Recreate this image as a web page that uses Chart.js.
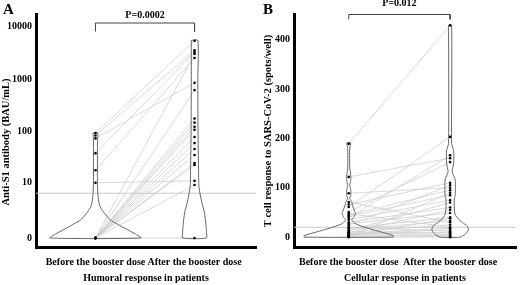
<!DOCTYPE html>
<html>
<head>
<meta charset="utf-8">
<script src="https://cdn.jsdelivr.net/npm/chart.js@4.4.0/dist/chart.umd.min.js"></script>
<style>
  body { margin: 0; background: #fff; }
  #wrap { position: relative; width: 520px; height: 285px; }
  canvas { position: absolute; top: 0; }
  #chartA { left: 0; }
  #chartB { left: 260px; }
</style>
</head>
<body>
<div id="wrap">
  <canvas id="chartA" width="260" height="285"></canvas>
  <canvas id="chartB" width="260" height="285"></canvas>
</div>
<script>
const groups = ["Before the booster dose", "After the booster dose"];

// Panel A - anti-S1 antibody (BAU/mL), one entry per patient
const humoralBefore = [95, 85, 75, 39, 18, 10, 0, 0, 0, 0, 0, 0, 0, 0, 0, 0, 0, 0, 0, 0];
const humoralAfter = [5300, 3500, 850, 3200, 2500, 11, 620, 180, 150, 125, 110, 80, 61, 47, 36, 25, 23, 9, 0, 3000];
const humoralTicks = [0, 10, 100, 1000, 10000];
const humoralCutoff = 6;

// violin outlines: [value, half width], top to bottom
const humoralViolinBefore = [[95, 0.025], [70, 0.02], [30, 0.02], [11, 0.02], [5.5, 0.025], [3.2, 0.04], [2.1, 0.08], [1.2, 0.15], [0.55, 0.29], [0.2, 0.4], [0, 0.46]];
const humoralViolinAfter = [[5400, 0.033], [1000, 0.033], [100, 0.035], [20, 0.04], [8, 0.045], [4, 0.07], [2, 0.1], [0.8, 0.115], [0.3, 0.12], [0, 0.12]];

// Panel B - T cell response (spots/well), one entry per patient
const cellularBefore = [189, 122, 89, 71, 66, 61, 51, 48, 45, 42, 39, 35, 30, 27, 24, 20, 18, 15, 13, 11, 10, 9, 8, 7, 6, 5, 4, 3, 2, 1, 0];
const cellularAfter = [429, 160, 100, 30, 110, 203, 152, 20, 95, 85, 166, 75, 60, 49, 105, 12, 40, 33, 70, 8, 25, 55, 5, 18, 15, 10, 3, 38, 2, 90, 0];
const cellularTicks = [0, 100, 200, 300, 400];
const cellularCutoff = 20;

const cellularViolinBefore = [[191, 0.02], [180, 0.01], [140, 0.01], [125, 0.02], [115, 0.02], [105, 0.01], [95, 0.02], [85, 0.02], [78, 0.01], [72, 0.03], [65, 0.035], [57, 0.05], [48, 0.065], [40, 0.05], [35, 0.03], [28, 0.06], [22, 0.13], [15, 0.24], [8, 0.36], [3, 0.44], [0, 0.44]];
const cellularViolinAfter = [[429, 0.015], [190, 0.015], [175, 0.035], [150, 0.035], [132, 0.02], [116, 0.05], [85, 0.05], [75, 0.04], [49, 0.045], [39, 0.07], [30, 0.12], [22, 0.17], [14, 0.18], [6, 0.15], [0, 0.1]];

const serif = '"Liberation Serif", "Times New Roman", serif';

const logPlusOne = v => Math.log10(v + 1);
const plain = v => v;

function violinPath(profile, center, tf) {
    const left = profile.map(([v, w]) => ({ x: center - w, y: tf(v) }));
    const right = profile.slice().reverse().map(([v, w]) => ({ x: center + w, y: tf(v) }));
    return left.concat(right, [left[0]]);
}

// letters, p values and rotated y titles
const annotate = {
    id: "annotate",
    afterDraw(chart, args, opts) {
        const { ctx, scales } = chart;
        ctx.save();
        ctx.fillStyle = "#000";
        ctx.font = "bold 15px " + serif;
        ctx.textBaseline = "top";
        ctx.textAlign = "left";
        ctx.fillText(opts.letter, opts.letterX, 3);

        const mid = (scales.x.getPixelForValue(0) + scales.x.getPixelForValue(1)) / 2;
        ctx.font = "bold 10px " + serif;
        ctx.textAlign = "center";
        ctx.textBaseline = "bottom";
        ctx.fillText(opts.pText, mid, scales.y.getPixelForValue(opts.bracketTop) - opts.pGap);

        ctx.translate(opts.titleX, opts.titleY);
        ctx.rotate(-Math.PI / 2);
        ctx.font = "bold 10.5px " + serif;
        ctx.textBaseline = "middle";
        ctx.fillText(opts.yTitle, 0, 0);
        ctx.restore();
    }
};

function makePanel(id, p) {
    const datasets = [];

    // paired patient lines
    p.before.forEach((b, i) => {
        datasets.push({
            data: [{ x: 0, y: p.tf(b) }, { x: 1, y: p.tf(p.after[i]) }],
            showLine: true,
            borderColor: "#cfcfcf",
            borderWidth: 0.8,
            pointRadius: 0,
            order: 4
        });
    });

    // cutoff line
    datasets.push({
        data: [{ x: p.xMin, y: p.tf(p.cutoff) }, { x: p.xMax, y: p.tf(p.cutoff) }],
        showLine: true,
        borderColor: "#c8c8c8",
        borderWidth: 1,
        pointRadius: 0,
        order: 3
    });

    // violins
    [p.violinBefore, p.violinAfter].forEach((prof, i) => {
        datasets.push({
            data: violinPath(prof, i, p.tf),
            showLine: true,
            borderColor: "#666",
            borderWidth: 1,
            tension: 0.2,
            pointRadius: 0,
            order: 2
        });
    });

    // bracket
    datasets.push({
        data: [
            { x: 0, y: p.bracketLow }, { x: 0, y: p.bracketTop },
            { x: 1, y: p.bracketTop }, { x: 1, y: p.bracketLow }
        ],
        showLine: true,
        borderColor: "#444",
        borderWidth: 1,
        pointRadius: 0,
        order: 1
    });

    // patient dots
    [p.before, p.after].forEach((vals, i) => {
        datasets.push({
            data: vals.map(v => ({ x: i, y: p.tf(v) })),
            pointRadius: 1.3,
            pointBackgroundColor: "#000",
            pointBorderWidth: 0,
            order: 0
        });
    });

    return new Chart(document.getElementById(id), {
        type: "scatter",
        data: { datasets },
        plugins: [annotate],
        options: {
            responsive: false,
            animation: false,
            events: [],
            layout: { padding: { top: 14, right: p.padRight, left: 0, bottom: 0 } },
            plugins: {
                legend: { display: false },
                tooltip: { enabled: false },
                annotate: {
                    letter: p.letter, letterX: 3,
                    pText: p.pText, pGap: p.pGap, bracketTop: p.bracketTop,
                    yTitle: p.yTitle, titleX: p.titleX, titleY: p.titleY
                }
            },
            scales: {
                x: {
                    type: "linear",
                    min: p.xMin,
                    max: p.xMax,
                    grid: { display: false, drawTicks: false },
                    border: { display: true, color: "#000", width: 3 },
                    afterBuildTicks: s => { s.ticks = groups.map((g, i) => ({ value: i })); },
                    afterFit: s => { s.height = 38; },
                    ticks: {
                        padding: 9,
                        color: "#000",
                        font: { family: serif, size: 10, weight: "bold" },
                        callback: (v, i) => groups[i]
                    },
                    title: {
                        display: true,
                        text: p.xTitle,
                        color: "#000",
                        padding: { top: 0, bottom: 1 },
                        font: { family: serif, size: 10, weight: "bold" }
                    }
                },
                y: {
                    type: "linear",
                    min: p.yMin,
                    max: p.yMax,
                    grid: { display: false, drawTicks: false },
                    border: { display: true, color: "#000", width: 3 },
                    afterBuildTicks: s => { s.ticks = p.ticks.map(v => ({ value: p.tf(v) })); },
                    afterFit: s => { s.width = p.axisLeft; },
                    ticks: {
                        padding: 4,
                        color: "#000",
                        font: { family: serif, size: 10, weight: "bold" },
                        callback: (v, i) => String(p.ticks[i])
                    }
                }
            }
        }
    });
}

makePanel("chartA", {
    before: humoralBefore, after: humoralAfter, tf: logPlusOne,
    cutoff: humoralCutoff, ticks: humoralTicks,
    violinBefore: humoralViolinBefore, violinAfter: humoralViolinAfter,
    xMin: -0.6, xMax: 1.62, yMin: -0.17, yMax: 4.23,
    bracketLow: 3.9, bracketTop: 4.06, pText: "P=0.0002", pGap: 3,
    axisLeft: 36, padRight: 2, letter: "A",
    xTitle: "Humoral response in patients",
    yTitle: "Anti-S1 antibody (BAU/mL)", titleX: 6, titleY: 142
});

makePanel("chartB", {
    before: cellularBefore, after: cellularAfter, tf: plain,
    cutoff: cellularCutoff, ticks: cellularTicks,
    violinBefore: cellularViolinBefore, violinAfter: cellularViolinAfter,
    xMin: -0.54, xMax: 1.65, yMin: -20, yMax: 452,
    bracketLow: 441, bracketTop: 451, pText: "P=0.012", pGap: 6,
    axisLeft: 34, padRight: 0, letter: "B",
    xTitle: "Cellular response in patients",
    yTitle: "T cell response to SARS-CoV-2 (spots/well)", titleX: 8, titleY: 131
});
</script>
</body>
</html>
